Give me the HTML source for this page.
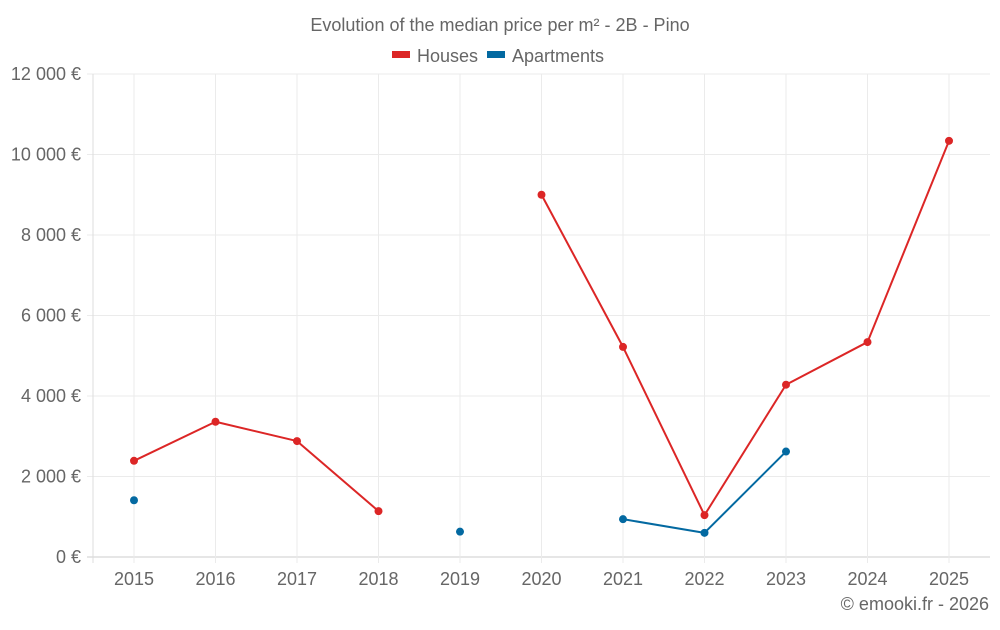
<!DOCTYPE html>
<html><head><meta charset="utf-8"><style>
body{margin:0;background:#fff;font-family:"Liberation Sans",sans-serif;}
svg text{font-family:"Liberation Sans",sans-serif;fill:#666;}
</style></head><body>
<svg id="chart" width="1000" height="625">
<text x="500" y="31" text-anchor="middle" font-size="18">Evolution of the median price per m² - 2B - Pino</text>
<g>
<rect x="392" y="51" width="18" height="7" fill="#dc2626"/>
<text x="417" y="62" font-size="18">Houses</text>
<rect x="487" y="51" width="18" height="7" fill="#0369a1"/>
<text x="512" y="62" font-size="18">Apartments</text>
</g>
<g id="grid"></g><g id="axes"></g><g id="series"></g>
<text x="989" y="610" text-anchor="end" font-size="18">© emooki.fr - 2026</text>
</svg>
<script>
const years=[2015,2016,2017,2018,2019,2020,2021,2022,2023,2024,2025];
const houses=[2390,3360,2880,1140,null,9000,5220,1040,4280,5340,10340];
const apartments=[1410,null,null,null,630,null,940,600,2620,null,null];
const yTicks=[0,2000,4000,6000,8000,10000,12000];
const yTickLabels=["0 €","2 000 €","4 000 €","6 000 €","8 000 €","10 000 €","12 000 €"];
const NS="http://www.w3.org/2000/svg";
const L=93,R=990,T=74,B=557;
const x=i=>134+i*81.5;
const y=v=>B-(v/12000)*(B-T);
function mk(tag,attrs,parent){const e=document.createElementNS(NS,tag);for(const k in attrs)e.setAttribute(k,attrs[k]);document.getElementById(parent).appendChild(e);return e;}
yTicks.forEach((t,i)=>{
 const g=mk('line',{x1:L-6,x2:R,y1:y(t),y2:y(t),stroke:i==0?'#ccc':'#ebebeb'},'grid');
 
 
 const tx=mk('text',{x:81,y:y(t)+6,'text-anchor':'end','font-size':18},'axes');tx.textContent=yTickLabels[i];
 
 
});
const vl=mk('line',{x1:L,x2:L,y1:T,y2:B+6,stroke:'#ddd'},'grid');


years.forEach((yr,i)=>{
 const g=mk('line',{x1:x(i),x2:x(i),y1:T,y2:B+6,stroke:'#ebebeb'},'grid');
 
 
 const tx=mk('text',{x:x(i),y:585,'text-anchor':'middle','font-size':18},'axes');tx.textContent=yr;
 
 
});
function draw(data,color,name){
 for(let i=0;i<data.length-1;i++){
  if(data[i]!=null&&data[i+1]!=null){
   const l=mk('line',{x1:x(i),y1:y(data[i]),x2:x(i+1),y2:y(data[i+1]),stroke:color,'stroke-width':2},'series');
   
   
  }
 }
 data.forEach((v,i)=>{if(v==null)return;
  const c=mk('circle',{cx:x(i),cy:y(v),r:4,fill:color},'series');
  
  
 });
}
draw(houses,'#dc2626','houses');
draw(apartments,'#0369a1','apartments');
</script>
</body></html>
